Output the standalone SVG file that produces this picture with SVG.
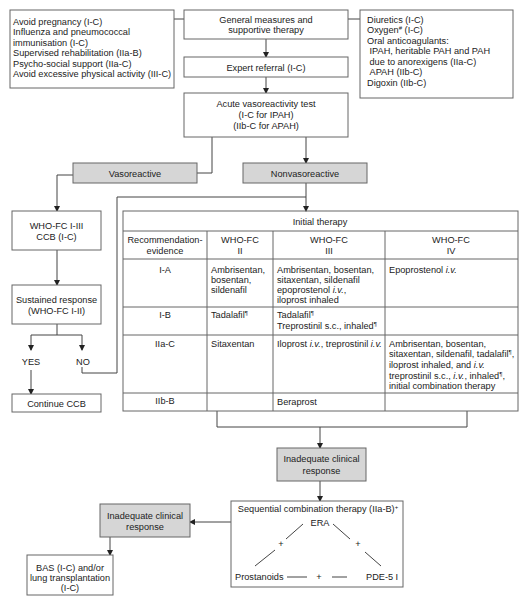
<svg xmlns="http://www.w3.org/2000/svg" width="523" height="599" viewBox="0 0 523 599">
<defs>
<marker id="ah" markerWidth="6" markerHeight="6" refX="5" refY="3" orient="auto" markerUnits="userSpaceOnUse">
<path d="M0,0 L6,3 L0,6 Z" fill="#222"/>
</marker>
<style>
text{font-family:"Liberation Sans",Arial,sans-serif;font-size:9.2px;fill:#222}
.c{text-anchor:middle}
.box{fill:#fff;stroke:#666;stroke-width:1}
.gray{fill:#d6d6d6;stroke:#666;stroke-width:1}
.ln{fill:none;stroke:#444;stroke-width:1}
.arr{fill:none;stroke:#444;stroke-width:1;marker-end:url(#ah)}
.tb{fill:none;stroke:#666;stroke-width:1}
.i{font-style:italic}
.sup{font-size:6px;baseline-shift:super}
</style>
</defs>
<rect width="523" height="599" fill="#fff"/>

<g id="connectors">
<path class="ln" d="M174,19 H184"/>
<path class="ln" d="M348,19 H360"/>
<path class="arr" d="M266,39 V57"/>
<path class="arr" d="M266,77 V93"/>
<path class="ln" d="M212,137 V173 H197"/>
<path class="arr" d="M306,137 V163"/>
<path class="arr" d="M73,175 H57 V211"/>
<path class="arr" d="M306,183 V211"/>
<path class="ln" d="M82,367 V373 H117 V197 H306"/>
<path class="arr" d="M57,250 V285"/>
<path class="ln" d="M57,324 V335 M31,335 H82"/>
<path class="arr" d="M31,335 V350"/>
<path class="arr" d="M82,335 V350"/>
<path class="arr" d="M31,370 V394"/>
<path class="ln" d="M217,411 V427 H467 V411"/>
<path class="arr" d="M320,427 V448"/>
<path class="arr" d="M320,481 V501"/>
<path class="arr" d="M231,522 H190"/>
<path class="arr" d="M110,537 V555"/>
</g>

<g id="general-measures-left">
<rect class="box" x="10" y="10" width="164" height="78"/>
<text x="13" y="24.5">Avoid pregnancy (I-C)</text>
<text x="13" y="35">Influenza and pneumococcal</text>
<text x="13" y="45.5">immunisation (I-C)</text>
<text x="13" y="56">Supervised rehabilitation (IIa-B)</text>
<text x="13" y="66.8">Psycho-social support (IIa-C)</text>
<text x="13" y="77.3">Avoid excessive physical activity (III-C)</text>
</g>

<g id="general-measures">
<rect class="box" x="184" y="10" width="164" height="29"/>
<text class="c" x="266" y="22.5">General measures and</text>
<text class="c" x="266" y="32.8">supportive therapy</text>
</g>

<g id="supportive-right">
<rect class="box" x="360" y="10" width="153" height="88"/>
<text x="367" y="22.5">Diuretics (I-C)</text>
<text x="367" y="33">Oxygen<tspan class="sup">#</tspan> (I-C)</text>
<text x="367" y="43.5">Oral anticoagulants:</text>
<text x="369.5" y="54">IPAH, heritable PAH and PAH</text>
<text x="369.5" y="64.5">due to anorexigens (IIa-C)</text>
<text x="369.5" y="75">APAH (IIb-C)</text>
<text x="367" y="85.5">Digoxin (IIb-C)</text>
</g>

<g id="expert-referral">
<rect class="box" x="184" y="57" width="164" height="20"/>
<text class="c" x="266" y="70.5">Expert referral (I-C)</text>
</g>

<g id="vasoreactivity-test">
<rect class="box" x="184" y="93" width="164" height="44"/>
<text class="c" x="266" y="106.5">Acute vasoreactivity test</text>
<text class="c" x="266" y="117.5">(I-C for IPAH)</text>
<text class="c" x="266" y="128.5">(IIb-C for APAH)</text>
</g>

<g id="vasoreactive">
<rect class="gray" x="73" y="163" width="124" height="20"/>
<text class="c" x="135" y="176.5">Vasoreactive</text>
</g>

<g id="nonvasoreactive">
<rect class="gray" x="243" y="163" width="124" height="20"/>
<text class="c" x="305" y="176.5">Nonvasoreactive</text>
</g>

<g id="ccb">
<rect class="box" x="12" y="211" width="89" height="39"/>
<text class="c" x="56.5" y="228.5">WHO-FC I-III</text>
<text class="c" x="56.5" y="239.5">CCB (I-C)</text>
</g>

<g id="sustained-response">
<rect class="box" x="12" y="285" width="89" height="39"/>
<text class="c" x="56.5" y="303.3">Sustained response</text>
<text class="c" x="56.5" y="314.3">(WHO-FC I-II)</text>
</g>

<g id="yes">
<text class="c" x="31" y="364.5">YES</text>
</g>
<g id="no">
<text class="c" x="83" y="364.5">NO</text>
</g>

<g id="continue-ccb">
<rect class="box" x="12" y="394" width="89" height="18"/>
<text class="c" x="56.5" y="406.5">Continue CCB</text>
</g>

<g id="initial-therapy-table">
<rect class="tb" x="123" y="211" width="395" height="200"/>
<path class="tb" d="M123,231 H518 M123,259 H518 M123,307 H518 M123,335 H518 M123,393 H518 M207,231 V411 M273,231 V411 M385,231 V411"/>
<text class="c" x="320" y="225">Initial therapy</text>
<text class="c" x="165" y="242.5">Recommendation-</text>
<text class="c" x="165" y="253.5">evidence</text>
<text class="c" x="240" y="242.5">WHO-FC</text>
<text class="c" x="240" y="253.5">II</text>
<text class="c" x="329" y="242.5">WHO-FC</text>
<text class="c" x="329" y="253.5">III</text>
<text class="c" x="451" y="242.5">WHO-FC</text>
<text class="c" x="451" y="253.5">IV</text>

<text class="c" x="165" y="273.3">I-A</text>
<text x="211" y="273.3">Ambrisentan,</text>
<text x="211" y="283.1">bosentan,</text>
<text x="211" y="292.9">sildenafil</text>
<text x="277" y="273.3">Ambrisentan, bosentan,</text>
<text x="277" y="283.1">sitaxentan, sildenafil</text>
<text x="277" y="292.9">epoprostenol <tspan class="i">i.v.</tspan>,</text>
<text x="277" y="302.7">iloprost inhaled</text>
<text x="389" y="273.3">Epoprostenol <tspan class="i">i.v.</tspan></text>

<text class="c" x="165" y="318.3">I-B</text>
<text x="211" y="318.3">Tadalafil<tspan class="sup">¶</tspan></text>
<text x="277" y="318.3">Tadalafil<tspan class="sup">¶</tspan></text>
<text x="277" y="329">Treprostinil s.c., inhaled<tspan class="sup">¶</tspan></text>

<text class="c" x="165" y="346.5">IIa-C</text>
<text x="211" y="346.5">Sitaxentan</text>
<text x="277" y="346.5">Iloprost <tspan class="i">i.v.</tspan>, treprostinil <tspan class="i">i.v.</tspan></text>
<text x="389" y="346.5">Ambrisentan, bosentan,</text>
<text x="389" y="357.2">sitaxentan, sildenafil, tadalafil<tspan class="sup">¶</tspan>,</text>
<text x="389" y="367.9">iloprost inhaled, and <tspan class="i">i.v.</tspan></text>
<text x="389" y="378.6">treprostinil s.c., <tspan class="i">i.v.</tspan>, inhaled<tspan class="sup">¶</tspan>,</text>
<text x="389" y="389.3">initial combination therapy</text>

<text class="c" x="165" y="404">IIb-B</text>
<text x="277" y="405">Beraprost</text>
</g>

<g id="inadequate-response-1">
<rect class="gray" x="277" y="448" width="89" height="33"/>
<text class="c" x="321.5" y="462.3">Inadequate clinical</text>
<text class="c" x="321.5" y="474.3">response</text>
</g>

<g id="sequential-combination">
<rect class="box" x="231" y="501" width="172" height="86"/>
<text class="c" x="318" y="511.5">Sequential combination therapy (IIa-B)<tspan class="sup">+</tspan></text>
<text class="c" x="320" y="526.3">ERA</text>
<path class="ln" d="M303,524 L286,539 M275,550 L255,566 M333,524 L350,539 M365,552 L381,566 M287,577 H307 M332,577 H347" stroke-width="0.8"/>
<text class="c" x="281" y="547.3">+</text>
<text class="c" x="358" y="547.3">+</text>
<text class="c" x="319" y="580.3">+</text>
<text x="235" y="580.3">Prostanoids</text>
<text x="366" y="580.3">PDE-5 I</text>
</g>

<g id="inadequate-response-2">
<rect class="gray" x="100" y="504" width="90" height="33"/>
<text class="c" x="145" y="519.3">Inadequate clinical</text>
<text class="c" x="145" y="530.3">response</text>
</g>

<g id="bas-transplant">
<rect class="box" x="27" y="555" width="86" height="40"/>
<text class="c" x="70" y="571">BAS (I-C) and/or</text>
<text class="c" x="70" y="581">lung transplantation</text>
<text class="c" x="70" y="590.5">(I-C)</text>
</g>
</svg>
